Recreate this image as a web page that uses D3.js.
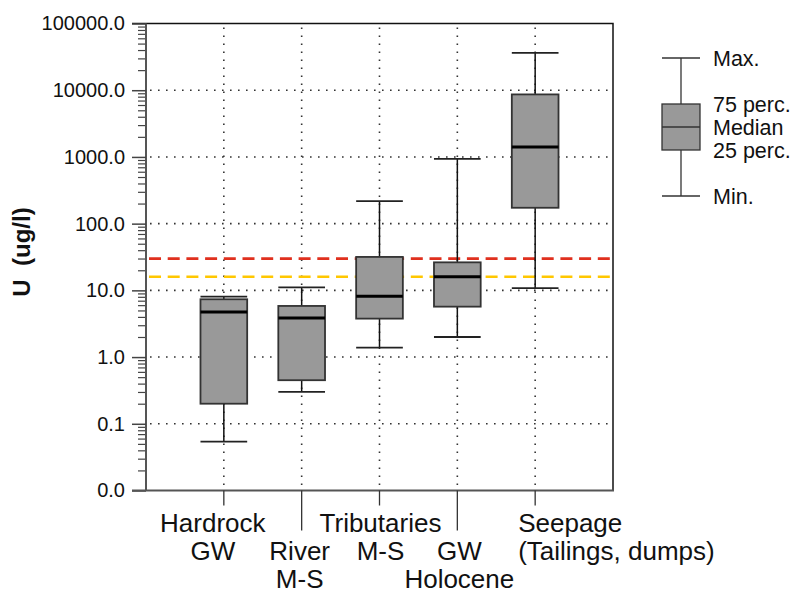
<!DOCTYPE html>
<html>
<head>
<meta charset="utf-8">
<script src="https://cdn.jsdelivr.net/npm/d3@7"></script>
<style>
  html, body { margin: 0; padding: 0; background: #fff; }
  svg { display: block; font-family: "Liberation Sans", Arial, Helvetica, sans-serif; }
</style>
</head>
<body>
<svg id="chart" width="796" height="590"></svg>
<script>
// Uranium concentrations by water type (ug/l): box statistics per category
const categories = ["Hardrock GW", "River M-S", "Tributaries M-S", "GW Holocene", "Seepage (Tailings, dumps)"];
const labelLines = [["Hardrock", "GW"], ["River", "M-S"], ["Tributaries", "M-S"], ["GW", "Holocene"], ["Seepage", "(Tailings, dumps)"]];
const minVals    = [0.054, 0.30, 1.39, 2.0, 10.8];
const q1Vals     = [0.20, 0.45, 3.77, 5.7, 173];
const medianVals = [4.75, 3.86, 8.15, 16.0, 1405];
const q3Vals     = [7.35, 5.84, 31.7, 26.3, 8650];
const maxVals    = [8.04, 11.1, 218, 938, 36300];
const yTickValues = [0.01, 0.1, 1, 10, 100, 1000, 10000, 100000];
const limitValues = [30, 16];
const legendLabels = ["Max.", "75 perc.", "Median", "25 perc.", "Min."];
const yTitle = "U  (ug/l)";

// layout
const plot = { left: 146, right: 613, top: 23.5, bottom: 490.5 };
const limitColors = ["#e0301e", "#ffc700"];
const labelRow = [0, 1, 0, 1, 0];            // stagger of category labels
const labelShift = [-11, -2, 1, 2, -17];      // horizontal nudge of label block
const labelAnchor = ["middle", "middle", "middle", "middle", "start"];

const svg = d3.select("#chart");

const x = d3.scalePoint().domain(categories).range([plot.left, plot.right]).padding(1);
const y = d3.scaleLog().domain([0.01, 100000]).range([plot.bottom, plot.top]);
const boxW = x.step() * 0.6;

// dotted grid
const grid = svg.append("g").attr("stroke", "#333").attr("stroke-width", 1.6)
  .attr("stroke-dasharray", "1.6 6.4").attr("fill", "none");
grid.selectAll("line.h").data(yTickValues.slice(1, -1)).join("line")
  .attr("x1", plot.left + 4).attr("x2", plot.right).attr("y1", d => y(d)).attr("y2", d => y(d));
grid.selectAll("line.v").data(categories).join("line")
  .attr("x1", d => x(d)).attr("x2", d => x(d)).attr("y1", plot.top + 4).attr("y2", plot.bottom);

// limit lines
svg.append("g").selectAll("line").data(limitValues).join("line")
  .attr("x1", plot.left + 3).attr("x2", plot.right)
  .attr("y1", d => y(d)).attr("y2", d => y(d))
  .attr("stroke", (d, i) => limitColors[i]).attr("stroke-width", 2.7)
  .attr("stroke-dasharray", "12 6.7");

// boxes
const boxes = svg.append("g").selectAll("g").data(categories).join("g")
  .attr("transform", d => `translate(${x(d)},0)`);
boxes.append("line")
  .attr("y1", (d, i) => y(maxVals[i])).attr("y2", (d, i) => y(q3Vals[i]))
  .attr("stroke", "#111").attr("stroke-width", 1.5);
boxes.append("line")
  .attr("y1", (d, i) => y(q1Vals[i])).attr("y2", (d, i) => y(minVals[i]))
  .attr("stroke", "#111").attr("stroke-width", 1.5);
boxes.append("line")
  .attr("x1", -boxW / 2).attr("x2", boxW / 2)
  .attr("y1", (d, i) => y(maxVals[i])).attr("y2", (d, i) => y(maxVals[i]))
  .attr("stroke", "#222").attr("stroke-width", 1.8);
boxes.append("line")
  .attr("x1", -boxW / 2).attr("x2", boxW / 2)
  .attr("y1", (d, i) => y(minVals[i])).attr("y2", (d, i) => y(minVals[i]))
  .attr("stroke", "#222").attr("stroke-width", 1.8);
boxes.append("rect")
  .attr("x", -boxW / 2).attr("width", boxW)
  .attr("y", (d, i) => y(q3Vals[i]))
  .attr("height", (d, i) => y(q1Vals[i]) - y(q3Vals[i]))
  .attr("fill", "#999").attr("stroke", "#333").attr("stroke-width", 1.8);
boxes.append("line")
  .attr("x1", -boxW / 2).attr("x2", boxW / 2)
  .attr("y1", (d, i) => y(medianVals[i])).attr("y2", (d, i) => y(medianVals[i]))
  .attr("stroke", "#000").attr("stroke-width", 3);

// frame: top and right edges
svg.append("path")
  .attr("d", `M${plot.left - 14},${plot.top}H${plot.right}V${plot.bottom}`)
  .attr("fill", "none").attr("stroke", "#111").attr("stroke-width", 1.5);

// y axis: minor ticks, then major ticks with labels
const minorTicks = y.ticks().filter(v => !yTickValues.includes(v));
const yMinor = svg.append("g").attr("transform", `translate(${plot.left},0)`)
  .call(d3.axisLeft(y).tickValues(minorTicks).tickSize(8).tickFormat(""));
yMinor.select(".domain").remove();
yMinor.selectAll(".tick line").attr("stroke", "#444").attr("stroke-width", 1.2);

const yAxis = svg.append("g").attr("transform", `translate(${plot.left},0)`)
  .call(d3.axisLeft(y).tickValues(yTickValues).tickSize(14).tickPadding(7).tickFormat(d3.format(".1f")));
yAxis.select(".domain").attr("d", `M0,${plot.top}V${plot.bottom}`).attr("stroke", "#555").attr("stroke-width", 2);
yAxis.selectAll(".tick line").attr("stroke", "#444").attr("stroke-width", 1.5);
yAxis.selectAll(".tick text").attr("font-size", 20).attr("fill", "#111")
  .attr("font-family", "Liberation Sans, Arial, sans-serif");

// x axis: baseline and staggered ticks
svg.append("line").attr("x1", plot.left - 14).attr("x2", plot.right + 1)
  .attr("y1", plot.bottom).attr("y2", plot.bottom)
  .attr("stroke", "#555").attr("stroke-width", 2);
svg.append("g").selectAll("line").data(categories).join("line")
  .attr("x1", d => x(d)).attr("x2", d => x(d))
  .attr("y1", plot.bottom).attr("y2", (d, i) => plot.bottom + (labelRow[i] ? 40 : 15))
  .attr("stroke", "#333").attr("stroke-width", 1.3);

const lineH = 28, firstBase = 531.5;
const xl = svg.append("g").selectAll("text").data(categories).join("text")
  .attr("font-size", 26).attr("fill", "#111")
  .attr("text-anchor", (d, i) => labelAnchor[i]);
xl.each(function (d, i) {
  const t = d3.select(this);
  labelLines[i].forEach((s, k) => {
    t.append("tspan").attr("x", x(d) + labelShift[i])
      .attr("y", firstBase + (labelRow[i] + k) * lineH).text(s);
  });
});

// y title
svg.append("text")
  .attr("transform", `translate(30,252) rotate(-90)`)
  .attr("text-anchor", "middle").attr("font-size", 24).attr("font-weight", "bold")
  .attr("fill", "#111").style("white-space", "pre").text(yTitle);

// legend
const lg = svg.append("g").attr("transform", "translate(681,0)");
const lgStroke = "#333";
const lgY = [58, 104, 127, 150, 196];
lg.append("line").attr("y1", lgY[0]).attr("y2", lgY[4]).attr("stroke", lgStroke).attr("stroke-width", 1.3);
[lgY[0], lgY[4]].forEach(v => lg.append("line").attr("x1", -19).attr("x2", 19)
  .attr("y1", v).attr("y2", v).attr("stroke", lgStroke).attr("stroke-width", 1.3));
lg.append("rect").attr("x", -19).attr("width", 38).attr("y", lgY[1]).attr("height", lgY[3] - lgY[1])
  .attr("fill", "#999").attr("stroke", lgStroke).attr("stroke-width", 1.3);
lg.append("line").attr("x1", -19).attr("x2", 19).attr("y1", lgY[2]).attr("y2", lgY[2])
  .attr("stroke", lgStroke).attr("stroke-width", 1.5);
lg.selectAll("text").data(legendLabels).join("text")
  .attr("x", 32).attr("y", (d, i) => lgY[i]).attr("dy", "0.35em")
  .attr("font-size", 21.5).attr("fill", "#111").text(d => d);
</script>
</body>
</html>
